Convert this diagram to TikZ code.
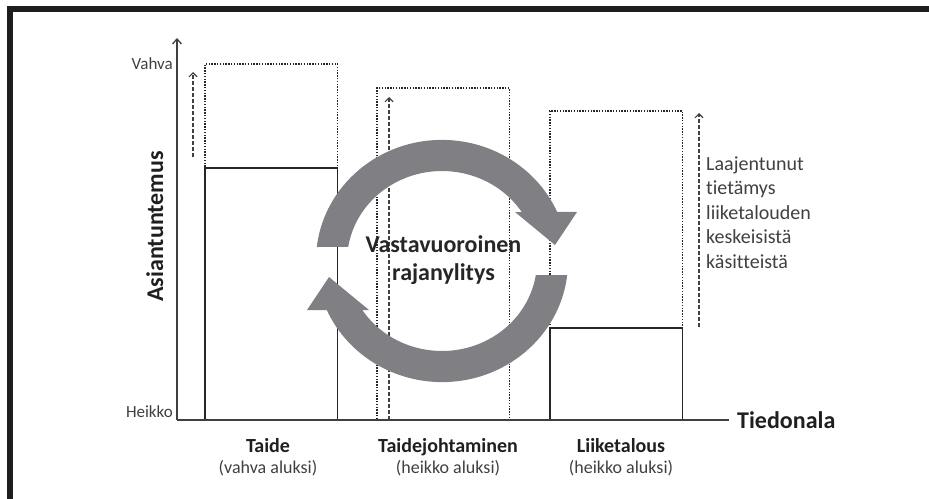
\documentclass[tikz,border=0pt]{standalone}
\usepackage{fontspec}
\setmainfont{Carlito}[Ligatures=NoCommon]
\usetikzlibrary{arrows.meta,positioning}
\definecolor{loopgray}{RGB}{128,128,132}
\definecolor{framegray}{RGB}{30,30,30}
\definecolor{labelgray}{RGB}{64,64,64}

\begin{document}
\begin{tikzpicture}[x=1pt,y=-1pt,
  bar/.style={draw=black!85,line width=1.8pt,inner sep=0pt,outer sep=0pt,minimum width=132.5pt,anchor=south west},
  reach/.style={draw=black!85,line width=1.4pt,dash pattern=on 1.4pt off 1.4pt,inner sep=0pt,outer sep=0pt,minimum width=132.5pt,anchor=south west},
  axis/.style={draw=black!75,line width=1.3pt},
  rise/.style={draw=black!75,line width=1.1pt,dash pattern=on 4pt off 2pt,-{Straight Barb[length=4pt,width=8pt]}},
  turn/.style={fill=loopgray,draw=none},
  level/.style={font=\fontsize{17}{20}\selectfont,text=labelgray,inner sep=0pt},
  axlabel/.style={font=\fontsize{24}{28}\selectfont\bfseries,text=black!88,inner sep=0pt},
  fieldname/.style={font=\fontsize{20}{24}\selectfont\bfseries,text=black!88,inner sep=0pt,anchor=base},
  fieldnote/.style={font=\fontsize{18}{22}\selectfont,text=labelgray,inner sep=0pt,anchor=base},
  gain/.style={font=\fontsize{20}{24}\selectfont,text=labelgray,inner sep=0pt,anchor=base west},
  recip/.style={font=\fontsize{24}{28}\selectfont\bfseries,text=black!85,align=center,inner sep=0pt}]
\useasboundingbox (0,0) rectangle (929,498);
\draw[framegray,line width=6pt] (10,510) -- (10,9) -- (940,9);

% knowledge bars: dotted = reach after crossing, solid = at start
\node[reach,minimum height=356pt] (taide-reach) at (205,420) {};
\node[bar,minimum height=252pt] (taide-bar) at (205,420) {};
\node[reach,minimum height=332pt] (johto-reach) at (377,420) {};
\node[reach,minimum height=309pt] (liike-reach) at (550,420) {};
\node[bar,minimum height=92pt] (liike-bar) at (550,420) {};

% axes
\coordinate (origin) at (177,420);
\coordinate (ytip) at (177,38);
\coordinate (xend) at (729,420);
\draw[axis,-{Straight Barb[length=5pt,width=9pt]}] (origin) -- (ytip);
\draw[axis] (origin) -- (xend);

% growth arrows
\coordinate (taide-from) at (193,157);
\coordinate (taide-to) at (193,72);
\coordinate (johto-from) at (389,420);
\coordinate (johto-to) at (389,97);
\coordinate (liike-from) at (699,327);
\coordinate (liike-to) at (699,113);
\foreach \a in {taide,johto,liike} \draw[rise] (\a-from) -- (\a-to);

% circular arrows
\coordinate (hub) at (442,261);
\fill[turn] (316.8,247) arc[start angle=186.6,end angle=336.1,x radius=126,y radius=121]
  -- (577,212) -- (555,245) -- (515,212) -- (521.7,212)
  arc[start angle=327,end angle=189,x radius=95,y radius=90] -- cycle;
\fill[turn] (567.2,275) arc[start angle=6.6,end angle=156.1,x radius=126,y radius=121]
  -- (307,310) -- (329,277) -- (369,310) -- (362.3,310)
  arc[start angle=147,end angle=9,x radius=95,y radius=90] -- cycle;

% labels
\node[level,anchor=east] (strong) at (173,64) {Vahva};
\node[level,anchor=base east] (weak) at (173,417) {Heikko};
\node[axlabel,rotate=90,anchor=base] (expertise) at (163,226.5) {Asiantuntemus};
\node[axlabel,anchor=base west] (domain) at (737,428) {Tiedonala};
\node[recip] (crossing) at (443.5,260) {Vastavuoroinen\\rajanylitys};
\foreach \x/\name/\note/\id in {268/Taide/vahva aluksi/taide,448/Taidejohtaminen/heikko aluksi/johto,621/Liiketalous/heikko aluksi/liike}{
  \node[fieldname] (\id-name) at (\x,452) {\name};
  \node[fieldnote] (\id-note) at (\x,473) {(\note)};
}
\foreach \w [count=\i] in {Laajentunut,tietämys,liiketalouden,keskeisistä,käsitteistä}
  \node[gain] (gain\i) at (706,145.5+24.5*\i) {\w};
\end{tikzpicture}
\end{document}
